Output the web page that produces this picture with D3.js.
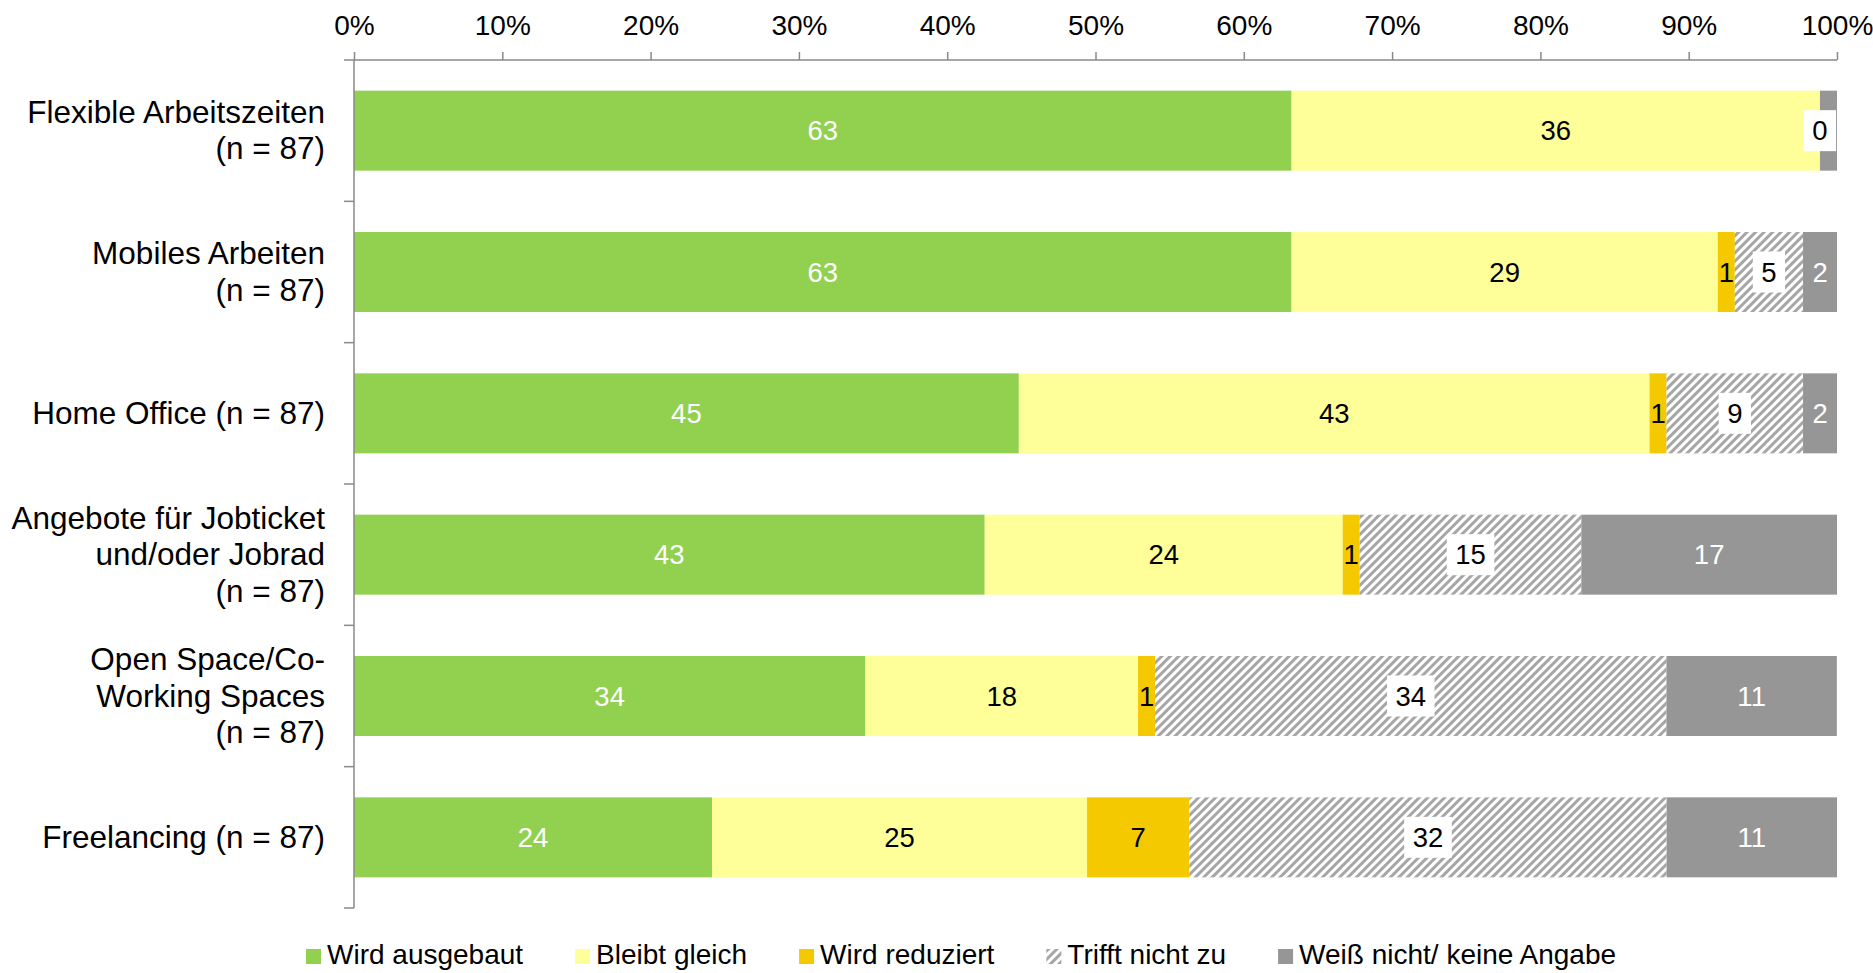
<!DOCTYPE html>
<html>
<head>
<meta charset="utf-8">
<script src="https://cdn.jsdelivr.net/npm/d3@7"></script>
<style>
  html, body { margin: 0; padding: 0; background: #fff; }
  svg { display: block; font-family: "Liberation Sans", Arial, sans-serif; }
</style>
</head>
<body>
<svg id="chart" width="1873" height="973"></svg>
<script>
// Categories (one line per array entry separated by \n)
const categories = [
  "Flexible Arbeitszeiten\n(n = 87)",
  "Mobiles Arbeiten\n(n = 87)",
  "Home Office (n = 87)",
  "Angebote für Jobticket\nund/oder Jobrad\n(n = 87)",
  "Open Space/Co-\nWorking Spaces\n(n = 87)",
  "Freelancing (n = 87)"
];

const seriesNames = ["Wird ausgebaut", "Bleibt gleich", "Wird reduziert", "Trifft nicht zu", "Weiß nicht/ keine Angabe"];

// Shares in percent per category
const wirdAusgebaut  = [63.22, 63.22, 44.83, 42.53, 34.48, 24.14];
const bleibtGleich   = [35.63, 28.74, 42.53, 24.14, 18.39, 25.29];
const wirdReduziert  = [0.00,  1.15,  1.15,  1.15,  1.15,  6.90];
const trifftNichtZu  = [0.00,  4.60,  9.20,  14.94, 34.48, 32.18];
const weissNicht     = [1.15,  2.30,  2.30,  17.24, 11.49, 11.49];

const tickValues = [0, 10, 20, 30, 40, 50, 60, 70, 80, 90, 100];
const tickLabels = ["0%", "10%", "20%", "30%", "40%", "50%", "60%", "70%", "80%", "90%", "100%"];

// Labels that are covered by neighbouring labels and left out: [category index, series index]
const hiddenLabels = [[0, 2], [0, 4]];

const seriesValues = [wirdAusgebaut, bleibtGleich, wirdReduziert, trifftNichtZu, weissNicht];

const fills = ["#92D050", "#FFFF99", "#F5C900", "url(#hatch)", "#969696"];
const labelColors = ["#ffffff", "#000000", "#000000", "#000000", "#ffffff"];
const boxedSeries = 3;

const svg = d3.select("#chart");
const plotLeft = 354, plotRight = 1837, plotTop = 60, plotBottom = 908;

const defs = svg.append("defs");
const pat = defs.append("pattern")
  .attr("id", "hatch")
  .attr("patternUnits", "userSpaceOnUse")
  .attr("width", 6).attr("height", 6)
  .attr("patternTransform", "rotate(45)");
pat.append("rect").attr("width", 6).attr("height", 6).attr("fill", "#ffffff");
pat.append("rect").attr("width", 3).attr("height", 6).attr("fill", "#A6A6A6");

const x = d3.scaleLinear().domain([0, 100]).range([plotLeft, plotRight]);
const y = d3.scaleBand().domain(d3.range(categories.length))
  .range([plotTop, plotBottom]).paddingInner(0.434).paddingOuter(0.217);

// Stacked segments
const rows = categories.map((c, i) => {
  let acc = 0;
  return seriesValues.map((vals, s) => {
    const v = vals[i];
    const seg = { row: i, series: s, value: v, x0: acc, x1: acc + v };
    acc += v;
    return seg;
  });
});
const segments = rows.flat();

svg.append("g").selectAll("rect")
  .data(segments)
  .join("rect")
  .attr("x", d => x(d.x0))
  .attr("y", d => y(d.row))
  .attr("width", d => Math.max(0, x(Math.min(100, d.x1)) - x(d.x0)))
  .attr("height", y.bandwidth())
  .attr("fill", d => fills[d.series]);

// Top axis
const axis = svg.append("g")
  .attr("transform", `translate(0,${plotTop})`)
  .call(d3.axisTop(x).tickValues(tickValues)
    .tickFormat((d, i) => tickLabels[i]).tickSize(8).tickPadding(17));
axis.select(".domain").attr("stroke", "#898989").attr("stroke-width", 1.5)
  .attr("d", `M${plotLeft},0H${plotRight}`);
axis.selectAll(".tick line").attr("stroke", "#898989").attr("stroke-width", 1.5);
axis.selectAll(".tick text").attr("fill", "#000").attr("font-size", 28)
  .attr("font-family", "Liberation Sans, Arial, sans-serif");

// Category axis on the left
const catAxis = svg.append("g");
catAxis.append("line")
  .attr("x1", plotLeft).attr("x2", plotLeft).attr("y1", plotTop).attr("y2", plotBottom)
  .attr("stroke", "#898989").attr("stroke-width", 1.5);
const boundaries = d3.range(categories.length + 1).map(i => plotTop + i * y.step());
catAxis.selectAll("line.sep")
  .data(boundaries)
  .join("line")
  .attr("class", "sep")
  .attr("x1", plotLeft - 10).attr("x2", plotLeft)
  .attr("y1", d => d).attr("y2", d => d)
  .attr("stroke", "#898989").attr("stroke-width", 1.5);

// Category labels
const lineH = 36.5;
const catLabels = svg.append("g").selectAll("text")
  .data(categories)
  .join("text")
  .attr("text-anchor", "end")
  .attr("font-size", 31.5)
  .attr("fill", "#000");
catLabels.each(function (d, i) {
  const lines = d.split("\n");
  const cy = y(i) + y.bandwidth() / 2;
  const first = cy + 10.5 - (lines.length - 1) * lineH / 2;
  d3.select(this).selectAll("tspan")
    .data(lines)
    .join("tspan")
    .attr("x", 325)
    .attr("y", (l, k) => first + k * lineH)
    .text(l => l);
});

// Value labels
const isHidden = d => hiddenLabels.some(h => h[0] === d.row && h[1] === d.series);
const labelData = segments.filter(d => !isHidden(d))
  .sort((a, b) => (a.series === boxedSeries) - (b.series === boxedSeries));
const labels = svg.append("g").selectAll("g")
  .data(labelData)
  .join("g")
  .attr("transform", d => `translate(${x((d.x0 + d.x1) / 2)},${y(d.row) + y.bandwidth() / 2})`);
labels.each(function (d) {
  const g = d3.select(this);
  const t = g.append("text")
    .attr("text-anchor", "middle")
    .attr("dy", "0.35em")
    .attr("font-size", 27.5)
    .attr("fill", labelColors[d.series])
    .text(Math.round(d.value));
  if (d.series === boxedSeries) {
    const bb = t.node().getBBox();
    g.insert("rect", "text")
      .attr("x", bb.x - 8.5).attr("y", -20.5)
      .attr("width", bb.width + 17).attr("height", 41)
      .attr("fill", "#ffffff");
  }
});

// Legend
const legend = svg.append("g").attr("transform", "translate(306,949)");
let lx = 0;
seriesNames.forEach((name, s) => {
  const item = legend.append("g").attr("transform", `translate(${lx},0)`);
  item.append("rect").attr("width", 15).attr("height", 15).attr("fill", fills[s]);
  const t = item.append("text").attr("x", 21).attr("y", 15)
    .attr("font-size", 28).attr("fill", "#000").text(name);
  lx += 21 + t.node().getComputedTextLength() + 52;
});
</script>
</body>
</html>
